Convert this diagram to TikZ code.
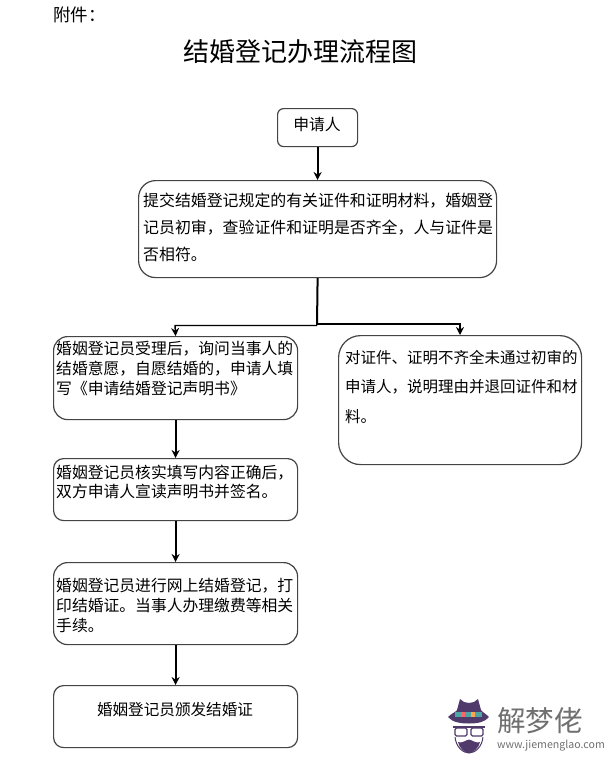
\documentclass[tikz,border=0pt]{standalone}
\usepackage{fontspec}
\newfontfamily\cjk{Noto Sans CJK SC}
\usetikzlibrary{arrows.meta}
\definecolor{boxline}{HTML}{444444}
\definecolor{hatpurple}{HTML}{4F3A6B}
\definecolor{logogray}{HTML}{707070}
\tikzset{
  flowbox/.style={draw=boxline,line width=1.2pt,fill=white,inner sep=0pt,anchor=north west},
  bodytext/.style={anchor=north west,inner sep=0pt,align=left,font=\cjk\fontsize{#1}{#1}\selectfont},
  conn/.style={draw=black,line width=2pt,-{Stealth[length=8pt,width=8pt]}},
  connthin/.style={draw=black,line width=1.4pt,-{Stealth[length=8pt,width=8pt]}},
}
\newcommand{\bx}[6]{\node[flowbox,rounded corners=#6,minimum width=#4pt-#2pt,minimum height=#5pt-#3pt] (#1) at (#2,#3) {};}
\begin{document}
\begin{tikzpicture}[x=1pt,y=-1pt]
\useasboundingbox (0,0) rectangle (615,758);
\fill[white] (0,0) rectangle (615,758);
\node[anchor=west,inner sep=0pt,font=\cjk\fontsize{17.5}{18}\selectfont] (attach) at (53,14.5) {附件：};
\node[inner sep=0pt,font=\cjk\fontsize{26}{28}\selectfont] (title) at (300,52) {结婚登记办理流程图};

\bx{apply}{277}{108}{357}{146}{6pt}
\bx{main}{138}{180}{496}{277}{17pt}
\bx{accept}{53}{336}{297}{419}{14pt}
\bx{reject}{338}{335}{581}{464}{22pt}
\bx{verify}{53}{458}{297}{520}{10pt}
\bx{online}{53}{562}{297}{644}{14pt}
\bx{issue}{53}{685}{297}{747}{10pt}

\node[inner sep=0pt,font=\cjk\fontsize{15.8}{16}\selectfont] (tapply) at (317,124) {申请人};
\node[bodytext=15.9,anchor=west] (tmain) at (143,227) {提交结婚登记规定的有关证件和证明材料，婚姻登\\[11pt]记员初审，查验证件和证明是否齐全，人与证件是\\[11pt]否相符。};
\node[bodytext=15.8] (taccept) at (56,341) {婚姻登记员受理后，询问当事人的\\[4pt]结婚意愿，自愿结婚的，申请人填\\[4pt]写《申请结婚登记声明书》};
\node[bodytext=15.5] (treject) at (345,350) {对证件、证明不齐全未通过初审的\\[14pt]申请人，说明理由并退回证件和材\\[14pt]料。};
\node[bodytext=15.8] (tverify) at (56,465) {婚姻登记员核实填写内容正确后，\\[3.5pt]双方申请人宣读声明书并签名。};
\node[bodytext=15.8] (tonline) at (56,578) {婚姻登记员进行网上结婚登记，打\\[4pt]印结婚证。当事人办理缴费等相关\\[4pt]手续。};
\node[inner sep=0pt,font=\cjk\fontsize{15.6}{16}\selectfont] (tissue) at (175,710) {婚姻登记员颁发结婚证};

\draw[conn] (apply.south) -- (main.north);
\coordinate (split) at (317,325);
\coordinate (leftbend) at (175,325.5);
\coordinate (rightbend) at (460,323.5);
\draw[draw=black,line width=2pt] (main.south) -- (split);
\draw[connthin] (317,325.5) -- (leftbend) -- (accept.north);
\draw[conn] (316,323.5) -- (rightbend) -- (460,335);
\draw[conn] (accept.south) -- (verify.north);
\draw[conn] (verify.south) -- (online.north);
\draw[conn] (online.south) -- (issue.north);

% logo
\fill[hatpurple] (448,717) .. controls (452,722) and (460,723.5) .. (469,723.5) .. controls (478,723.5) and (485,722) .. (489,717) .. controls (485,713) and (482,712) .. (481,710) -- (478,699) -- (474,702) -- (469,703) -- (464,702) -- (460,699) -- (457,710) .. controls (456,712) and (452,713) .. (448,717) -- cycle;
\fill[teal!70!white] (455,712) rectangle (482,717);
\fill[red!60!white] (461,712) rectangle (465,717);
\fill[orange!70!white] (471,712) rectangle (475,717);
\draw[hatpurple,line width=1.2pt,rounded corners=1.5pt] (455,728) rectangle (467,736);
\draw[hatpurple,line width=1.2pt,rounded corners=1.5pt] (471,728) rectangle (483,736);
\draw[hatpurple,line width=1.2pt] (453,727) -- (485,727);
\draw[hatpurple,line width=1pt] (455,737) .. controls (456,747) and (463,753) .. (469,753) .. controls (475,753) and (482,747) .. (483,737);
\fill[hatpurple] (458,742) .. controls (461,744) and (466,740) .. (469,739.5) .. controls (472,740) and (477,744) .. (480,742) .. controls (479,748) and (473,753) .. (469,753) .. controls (465,753) and (459,748) .. (458,742) -- cycle;
\node[inner sep=0pt,anchor=west,text=logogray,font=\cjk\fontsize{28.5}{30}\selectfont] (logotext) at (497,721) {解梦佬};
\node[inner sep=0pt,anchor=west,text=logogray,font=\cjk\fontsize{10.6}{12}\selectfont] (logourl) at (497,746) {www.jiemenglao.com};
\end{tikzpicture}
\end{document}
